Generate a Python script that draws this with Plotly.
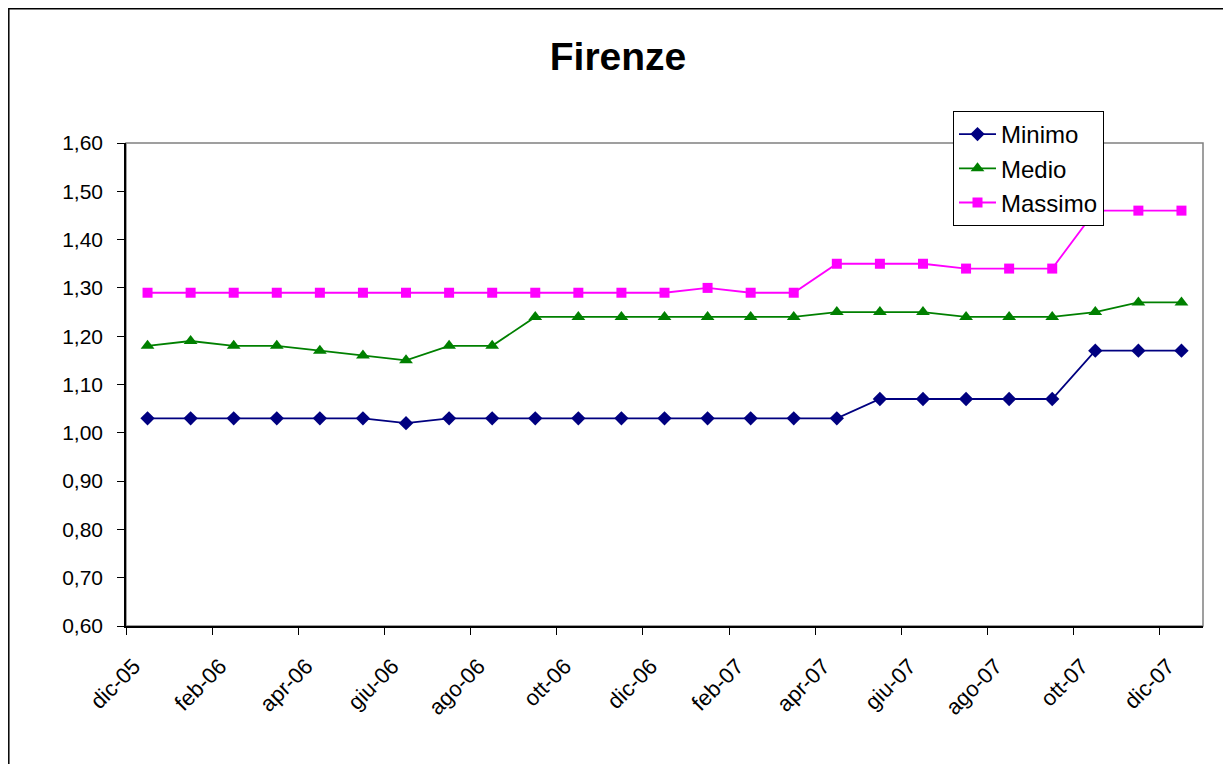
import plotly.graph_objects as go

months = ["dic-05","gen-06","feb-06","mar-06","apr-06","mag-06","giu-06","lug-06","ago-06","set-06","ott-06","nov-06",
          "dic-06","gen-07","feb-07","mar-07","apr-07","mag-07","giu-07","lug-07","ago-07","set-07","ott-07","nov-07","dic-07"]
minimo = [1.03,1.03,1.03,1.03,1.03,1.03,1.02,1.03,1.03,1.03,1.03,1.03,1.03,1.03,1.03,1.03,1.03,
          1.07,1.07,1.07,1.07,1.07,1.17,1.17,1.17]
medio = [1.18,1.19,1.18,1.18,1.17,1.16,1.15,1.18,1.18,1.24,1.24,1.24,1.24,1.24,1.24,1.24,1.25,
         1.25,1.25,1.24,1.24,1.24,1.25,1.27,1.27]
massimo = [1.29,1.29,1.29,1.29,1.29,1.29,1.29,1.29,1.29,1.29,1.29,1.29,1.29,1.30,1.29,1.29,1.35,
           1.35,1.35,1.34,1.34,1.34,1.46,1.46,1.46]
tick_labels = months[::2]
y_ticks = [0.6,0.7,0.8,0.9,1.0,1.1,1.2,1.3,1.4,1.5,1.6]

xs = [i + 0.5 for i in range(len(months))]
tickvals = list(range(0, len(months), 2))

fig = go.Figure()
fig.add_trace(go.Scatter(x=xs, y=minimo, name="Minimo", mode="lines+markers",
                         line=dict(color="#000080", width=1.8),
                         marker=dict(symbol="diamond", size=11, color="#000080")))
fig.add_trace(go.Scatter(x=xs, y=medio, name="Medio", mode="lines+markers",
                         line=dict(color="#008000", width=1.8),
                         marker=dict(symbol="triangle-up", size=12, color="#008000")))
fig.add_trace(go.Scatter(x=xs, y=massimo, name="Massimo", mode="lines+markers",
                         line=dict(color="#FF00FF", width=1.8),
                         marker=dict(symbol="square", size=10, color="#FF00FF")))

OFF = 8  # page body margin
L, R, T, B = 126 - OFF, 1203 - OFF, 143 - OFF, 626 - OFF
W, H = 1231, 764
def px(xp): return (xp - OFF - L) / (R - L)
def py(yp): return (B - (yp - OFF)) / (B - T)

fig.update_layout(
    width=W, height=H,
    margin=dict(l=L, r=W - R, t=T, b=H - B),
    paper_bgcolor="white", plot_bgcolor="white",
    separators=",.",
    font=dict(family="Liberation Sans, Arial, sans-serif", color="black", size=21),
    title=dict(text="<b>Firenze</b>", x=px(618), xref="paper", xanchor="center",
               y=1 - (56 - OFF) / H, yanchor="middle",
               font=dict(size=39, color="black")),
    showlegend=True,
    legend=dict(x=px(953), y=py(111), xanchor="left", yanchor="top",
                bgcolor="white", bordercolor="black", borderwidth=1,
                font=dict(size=24), tracegroupgap=0, itemwidth=37),
    xaxis=dict(range=[0, len(months)], tickvals=tickvals, ticktext=tick_labels,
               tickangle=-45, ticks="outside", ticklen=7, tickcolor="black",
               showline=True, linecolor="black", linewidth=1.5, showgrid=False,
               zeroline=False, tickfont=dict(size=22),
               ticklabelstandoff=10, ticklabelshift=8),
    yaxis=dict(range=[0.6, 1.6], tickvals=y_ticks, tickformat=".2f",
               ticks="outside", ticklen=7, tickcolor="black",
               showline=True, linecolor="black", linewidth=1.5, showgrid=False,
               zeroline=False, tickfont=dict(size=21), ticklabelstandoff=10),
    shapes=[
        dict(type="rect", xref="paper", yref="paper", x0=0, x1=1, y0=0, y1=1,
             line=dict(color="#808080", width=1.5), layer="below"),
        dict(type="rect", xref="paper", yref="paper", x0=px(8.8), x1=px(1260), y0=py(800), y1=py(8.8),
             line=dict(color="black", width=1.5), layer="below"),
    ],
)

fig.write_html("out.html")
